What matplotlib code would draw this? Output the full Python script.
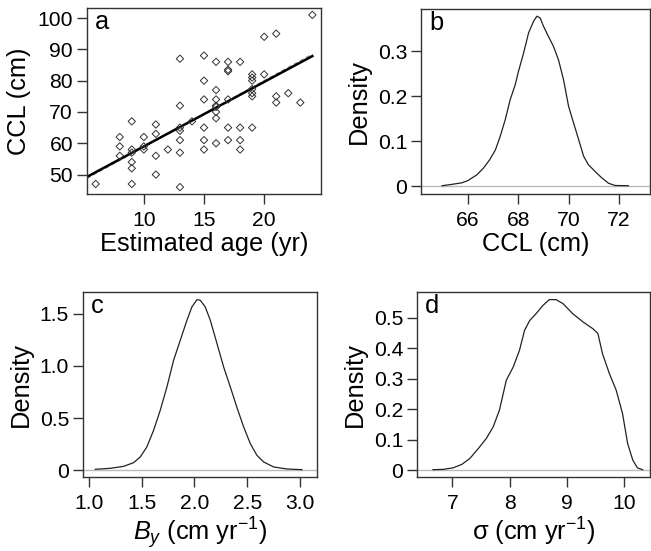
import matplotlib
matplotlib.use("Agg")
import matplotlib.pyplot as plt
import numpy as np

plt.rcParams['font.family'] = ['Liberation Sans', 'DejaVu Sans']
plt.rcParams['mathtext.fontset'] = 'custom'
plt.rcParams['mathtext.rm'] = 'Liberation Sans'
plt.rcParams['mathtext.it'] = 'Liberation Sans:italic'

# ---- Panel a data ----
age = [6, 8, 8, 8, 9, 9, 9, 9, 9, 9, 10, 10, 10, 11, 11, 11, 11, 12,
       13, 13, 13, 13, 13, 13, 13, 14, 15, 15, 15, 15, 15, 15,
       16, 16, 16, 16, 16, 16, 16, 16, 17, 17, 17, 17, 17, 17,
       18, 18, 18, 18, 19, 19, 19, 19, 19, 19, 19, 20, 20,
       21, 21, 21, 22, 23, 24]
ccl = [47, 62, 59, 56, 67, 58, 57, 54, 52, 47, 62, 59, 58, 66, 63, 56, 50, 58,
       87, 72, 65, 64, 61, 57, 46, 67, 88, 80, 74, 65, 61, 58,
       86, 77, 74, 72, 71.6, 70, 68, 60, 86, 83.5, 83, 74, 65, 61,
       86, 65, 61, 58, 82, 81, 80, 77.3, 76, 75, 65, 94, 82,
       95, 75, 73, 76, 73, 101]
fit_bayes = [38.4, 2.06]   # intercept, slope (solid)
fit_ols = [37.6, 2.12]     # intercept, slope (dashed)

# ---- Panel b: posterior density of CCL ----
b_x = [64.97, 65.3, 65.76, 66.0, 66.36, 66.62, 66.86, 67.09, 67.28, 67.48, 67.68,
       67.88, 68.01, 68.21, 68.41, 68.61, 68.74, 68.87, 69.0, 69.2, 69.4, 69.6,
       69.8, 70.0, 70.2, 70.4, 70.6, 70.79, 71.06, 71.32, 71.59, 71.85, 72.38]
b_y = [0.0015, 0.004, 0.008, 0.013, 0.026, 0.041, 0.059, 0.081, 0.111, 0.148, 0.193,
       0.226, 0.256, 0.296, 0.341, 0.367, 0.378, 0.374, 0.356, 0.333, 0.311, 0.281,
       0.237, 0.178, 0.141, 0.104, 0.067, 0.048, 0.033, 0.019, 0.007, 0.002, 0.0015]

# ---- Panel c: posterior density of B_y ----
c_x = [1.063, 1.205, 1.33, 1.425, 1.488, 1.55, 1.614, 1.677, 1.74, 1.803, 1.866,
       1.929, 1.976, 2.024, 2.055, 2.102, 2.15, 2.213, 2.276, 2.339, 2.4, 2.465,
       2.528, 2.59, 2.654, 2.748, 2.874, 3.016]
c_y = [0.01, 0.019, 0.038, 0.073, 0.128, 0.223, 0.383, 0.575, 0.798, 1.053, 1.245,
       1.436, 1.564, 1.634, 1.628, 1.564, 1.436, 1.213, 0.989, 0.798, 0.606, 0.415,
       0.255, 0.144, 0.08, 0.032, 0.013, 0.006]

# ---- Panel d: posterior density of sigma ----
d_x = [6.66, 6.84, 7.01, 7.16, 7.3, 7.45, 7.59, 7.71, 7.82, 7.94, 8.06, 8.17, 8.26,
       8.35, 8.46, 8.58, 8.69, 8.81, 8.93, 9.1, 9.28, 9.45, 9.54, 9.62, 9.74, 9.86,
       9.97, 10.06, 10.15, 10.23, 10.32]
d_y = [0.002, 0.003, 0.008, 0.019, 0.038, 0.071, 0.104, 0.142, 0.197, 0.295, 0.338,
       0.393, 0.459, 0.491, 0.513, 0.54, 0.559, 0.559, 0.546, 0.513, 0.486, 0.464,
       0.448, 0.382, 0.317, 0.262, 0.186, 0.087, 0.033, 0.008, 0.002]

W, H = 651, 551
fig = plt.figure(figsize=(W / 100, H / 100), dpi=100)

def add_axes(left, right, top, bottom):
    return fig.add_axes([left / W, (H - bottom) / H, (right - left) / W, (bottom - top) / H])

TICK_FS = 15.2
LAB_FS = 18.3

def style(ax, letter):
    for s in ax.spines.values():
        s.set_linewidth(1.0)
        s.set_color('#333333')
    ax.tick_params(direction='out', length=7, width=1.0, color='#333333',
                   labelsize=TICK_FS)
    ax.tick_params(axis='x', pad=5)
    ax.tick_params(axis='y', pad=3)
    ax.text(0.035, 0.99, letter, transform=ax.transAxes, ha='left', va='top',
            fontsize=LAB_FS)

# Panel a
axa = add_axes(87, 321, 8, 194)
axa.scatter(age, ccl, marker='D', s=14, facecolors='none', edgecolors='#333333',
            linewidths=0.7, zorder=3)
xx = np.array([5.28, 24.0])
axa.plot(xx, fit_ols[0] + fit_ols[1] * xx, color='#999999', lw=1.0, ls=(0, (3, 2)), zorder=2)
axa.plot(xx, fit_bayes[0] + fit_bayes[1] * xx, color='black', lw=1.8, zorder=2)
axa.set_xlim(5.28, 24.72)
axa.set_ylim(43.8, 103.2)
axa.set_xticks([10, 15, 20])
axa.set_yticks([50, 60, 70, 80, 90, 100])
axa.set_xlabel('Estimated age (yr)', fontsize=LAB_FS, labelpad=2)
axa.set_ylabel('CCL (cm)', fontsize=LAB_FS, labelpad=5)
style(axa, 'a')

def dens(ax, x, y, xlim, ylim, xticks, xticklabels, yticks, yticklabels, xlabel, letter):
    ax.axhline(0, color='#bbbbbb', lw=1.0, zorder=1)
    ax.plot(x, y, color='#222222', lw=0.9, zorder=2)
    ax.set_xlim(*xlim)
    ax.set_ylim(*ylim)
    ax.set_xticks(xticks)
    ax.set_xticklabels(xticklabels)
    ax.set_yticks(yticks)
    ax.set_yticklabels(yticklabels)
    ax.set_xlabel(xlabel, fontsize=LAB_FS, labelpad=2)
    ax.set_ylabel('Density', fontsize=LAB_FS, labelpad=5)
    style(ax, letter)

axb = add_axes(421, 650, 9, 194)
dens(axb, b_x, b_y, (64.13, 73.24), (-0.0169, 0.394),
     [66, 68, 70, 72], ['66', '68', '70', '72'],
     [0, 0.1, 0.2, 0.3], ['0', '0.1', '0.2', '0.3'], 'CCL (cm)', 'b')

axc = add_axes(83, 317, 292, 477)
dens(axc, c_x, c_y, (0.947, 3.158), (-0.064, 1.707),
     [1.0, 1.5, 2.0, 2.5, 3.0], ['1.0', '1.5', '2.0', '2.5', '3.0'],
     [0, 0.5, 1.0, 1.5], ['0', '0.5', '1.0', '1.5'],
     '$B_y$ (cm yr$^{\u22121}$)', 'c')

axd = add_axes(417, 650, 292, 477)
dens(axd, d_x, d_y, (6.38, 10.45), (-0.022, 0.584),
     [7, 8, 9, 10], ['7', '8', '9', '10'],
     [0, 0.1, 0.2, 0.3, 0.4, 0.5], ['0', '0.1', '0.2', '0.3', '0.4', '0.5'],
     '\u03c3 (cm yr$^{\u22121}$)', 'd')

fig.savefig('out.png', dpi=100)
